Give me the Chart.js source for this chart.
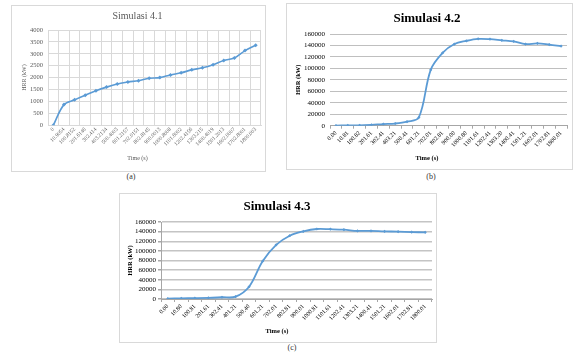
<!DOCTYPE html>
<html>
<head>
<meta charset="utf-8">
<script src="https://cdn.jsdelivr.net/npm/chart.js@4.4.1/dist/chart.umd.min.js"></script>
<style>
  body { margin: 0; background: #fff; width: 573px; height: 352px; position: relative; overflow: hidden; font-family: "Liberation Serif", serif; }
  .box { position: absolute; border: 1px solid #d9d9d9; box-sizing: border-box; background: #fff; }
  .box canvas { position: absolute; left: 0; top: 0; }
  .cap { position: absolute; font-size: 8px; color: #333; transform: translateX(-50%); }
</style>
</head>
<body>
<div class="box" style="left:11px;top:5px;width:255px;height:167px"><canvas id="chartA" width="253" height="165"></canvas></div>
<div class="box" style="left:286px;top:3px;width:287px;height:167px"><canvas id="chartB" width="285" height="165"></canvas></div>
<div class="box" style="left:119px;top:193px;width:318px;height:150px"><canvas id="chartC" width="316" height="148"></canvas></div>
<div class="cap" style="left:131px;top:172px">(a)</div>
<div class="cap" style="left:431px;top:172px">(b)</div>
<div class="cap" style="left:292px;top:343px">(c)</div>
<script>
// data
const timeA = ['0','10.9054','100.8152','201.6146','302.414','403.2134','500.4003','601.2157','702.0151','802.8145',
  '900.0013','1000.8008','1101.6002','1202.4156','1303.215','1400.4019','1501.2013','1602.0007','1702.8001','1800.003'];
const hrrA = [0, 865, 1065, 1260, 1445, 1600, 1730, 1815, 1870, 1970, 2000, 2110, 2200, 2325, 2410, 2540, 2720, 2820, 3135, 3360];

const timeB = ['0.00','10.81','100.82','201.61','302.41','403.21','500.41','601.21','702.01','802.81',
  '900.00','1000.80','1101.61','1202.41','1303.20','1400.41','1501.21','1602.01','1702.81','1800.01'];
const hrrB = [300, 500, 600, 1500, 2800, 3800, 7000, 14500, 97500, 127000, 142500, 148000, 151500, 151000, 149000, 147000, 142500, 143500, 141500, 139000];

const timeC = ['0.00','10.80','100.81','201.61','302.41','401.21','500.40','601.21','702.01','802.81',
  '900.01','1000.81','1101.61','1202.41','1303.21','1400.41','1501.21','1602.01','1702.81','1800.01'];
const hrrC = [600, 1400, 1800, 2400, 3600, 4800, 25500, 78500, 112500, 131500, 140500, 145500, 145000, 144000, 141500, 141500, 140500, 140000, 139000, 138500];

const blue = '#5b9bd5';
const serif = '"Liberation Serif", "Times New Roman", serif';

function lineChart(id, labels, values, o) {
  return new Chart(document.getElementById(id), {
    type: 'line',
    data: {
      labels,
      datasets: [{
        data: values,
        borderColor: blue,
        backgroundColor: blue,
        borderWidth: o.lineWidth,
        tension: 0.35,
        pointStyle: 'rectRot',
        pointRadius: o.pointRadius,
        pointBorderWidth: 0
      }]
    },
    options: {
      responsive: false,
      animation: false,
      devicePixelRatio: 1,
      layout: { padding: { left: 0, right: o.padRight, top: 0, bottom: 0 } },
      plugins: {
        legend: { display: false },
        tooltip: { enabled: false },
        title: {
          display: true, text: o.title, color: o.textColor,
          font: { family: serif, size: o.titleSize, weight: o.bold ? 'bold' : 'normal', lineHeight: 1.2 },
          padding: o.titlePad
        },
        subtitle: {
          display: true, position: 'bottom', text: 'Time (s)', color: o.textColor,
          font: { family: serif, size: o.axisTitleSize, weight: o.bold ? 'bold' : 'normal', lineHeight: 1.2 },
          padding: { top: 0, bottom: o.timePad }
        }
      },
      scales: {
        x: {
          offset: true,
          afterFit: s => { s.height = o.xHeight; },
          grid: {
            display: true, offset: true,
            drawOnChartArea: o.vGrid, color: o.gridColor,
            drawTicks: o.xTicks, tickLength: 3, tickColor: '#a6a6a6'
          },
          border: { display: true, color: o.axisColor },
          ticks: {
            autoSkip: false, minRotation: 45, maxRotation: 45, padding: 1,
            color: o.textColor, font: { family: serif, size: o.xTickSize }
          }
        },
        y: {
          min: 0, max: o.yMax,
          afterFit: s => { s.width = o.yWidth; },
          grid: { color: o.gridColor, lineWidth: o.gridWidth, drawTicks: o.yTicks, tickLength: 3, tickColor: '#a6a6a6' },
          border: { display: o.yBorder, color: o.axisColor },
          ticks: {
            stepSize: o.yStep, padding: o.yPad, autoSkip: false,
            callback: v => String(v),
            color: o.textColor, font: { family: serif, size: o.yTickSize }
          },
          title: {
            display: true, text: 'HRR (kW)', color: o.textColor,
            font: { family: serif, size: o.axisTitleSize, weight: o.bold ? 'bold' : 'normal', lineHeight: 1.2 },
            padding: { top: o.hrrPad, bottom: 0 }
          }
        }
      }
    }
  });
}

lineChart('chartA', timeA, hrrA, {
  title: 'Simulasi 4.1', bold: false, textColor: '#595959',
  titleSize: 10, titlePad: { top: 4, bottom: 8 },
  axisTitleSize: 6, timePad: 8.8, hrrPad: 8.9,
  xHeight: 29.8, yWidth: 36, padRight: 2,
  yMax: 4000, yStep: 500, yTickSize: 6.5, xTickSize: 5.5, yPad: 5,
  gridColor: '#d9d9d9', gridWidth: 1, axisColor: '#d9d9d9', vGrid: true, xTicks: false, yTicks: false, yBorder: true,
  lineWidth: 1.6, pointRadius: 2
});

lineChart('chartB', timeB, hrrB, {
  title: 'Simulasi 4.2', bold: true, textColor: '#000',
  titleSize: 13, titlePad: { top: 7.2, bottom: 7.2 },
  axisTitleSize: 6.5, timePad: 7.1, hrrPad: 7.1,
  xHeight: 28.4, yWidth: 43, padRight: 5,
  yMax: 160000, yStep: 20000, yTickSize: 7, xTickSize: 6, yPad: 5,
  gridColor: '#bfbfbf', gridWidth: 1, axisColor: '#a6a6a6', vGrid: false, xTicks: true, yTicks: false, yBorder: false,
  lineWidth: 1.8, pointRadius: 1.6
});

lineChart('chartC', timeC, hrrC, {
  title: 'Simulasi 4.3', bold: true, textColor: '#000',
  titleSize: 13, titlePad: { top: 5.2, bottom: 7.2 },
  axisTitleSize: 6.5, timePad: 7.1, hrrPad: 6.1,
  xHeight: 28.1, yWidth: 41, padRight: 2,
  yMax: 160000, yStep: 20000, yTickSize: 7, xTickSize: 6, yPad: 2,
  gridColor: '#c4c4c4', gridWidth: 1.5, axisColor: '#a6a6a6', vGrid: false, xTicks: true, yTicks: true, yBorder: true,
  lineWidth: 1.8, pointRadius: 1.6
});
</script>
</body>
</html>
